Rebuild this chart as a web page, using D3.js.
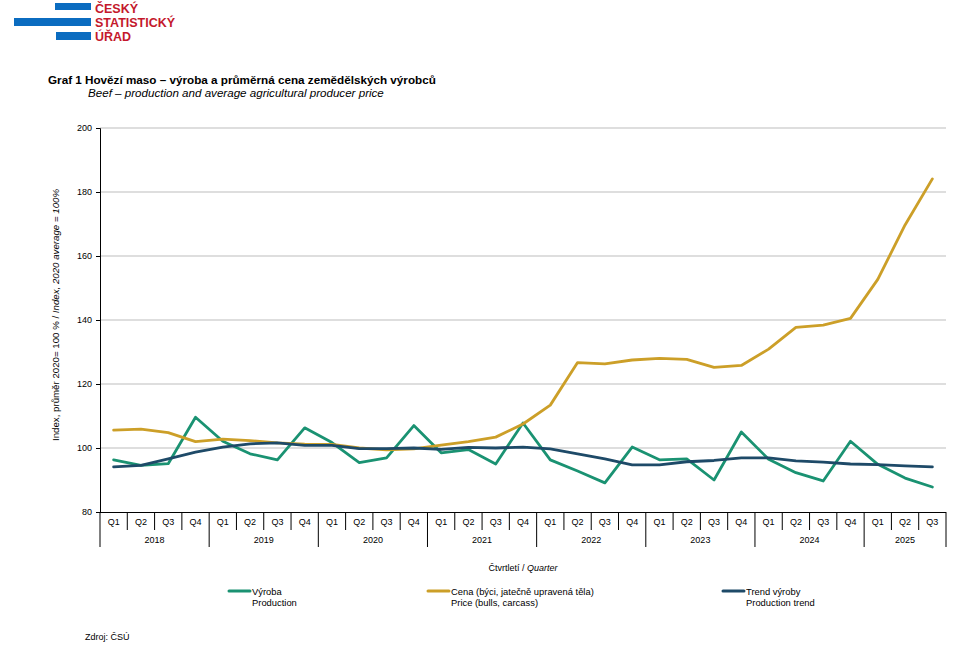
<!DOCTYPE html>
<html><head><meta charset="utf-8">
<script src="https://cdn.jsdelivr.net/npm/d3@7"></script>
<style>body{margin:0;background:#fff;} svg{display:block;font-family:"Liberation Sans",Arial,sans-serif;}</style>
</head><body>
<svg id="c" width="974" height="649"></svg>
<script>
const years = ["2018","2019","2020","2021","2022","2023","2024","2025"];
const quarters = ["Q1","Q2","Q3","Q4"];
const categories = [];
years.forEach(y => quarters.forEach(q => { if (!(y === "2025" && q === "Q4")) categories.push({year: y, q: q, key: y + q}); }));
const production = [96.3,94.6,95.1,109.6,102.1,98.2,96.3,106.3,101.7,95.4,96.9,107.0,98.5,99.5,95.0,107.8,
  96.3,92.8,89.1,100.3,96.3,96.6,90.0,105.0,96.5,92.3,89.7,102.1,94.9,90.6,87.8];
const price = [105.6,105.9,104.8,102.0,102.8,102.3,101.6,101.2,101.1,100.0,99.4,99.7,100.9,102.0,103.4,107.5,
  113.4,126.7,126.3,127.5,128.0,127.7,125.2,125.8,130.9,137.7,138.4,140.5,152.7,169.7,184.1];
const trend = [94.1,94.6,96.6,98.7,100.3,101.3,101.6,100.8,100.8,99.8,99.8,100.0,99.6,100.2,100.0,100.3,
  99.7,98.2,96.6,94.7,94.7,95.7,96.1,96.9,96.9,96.0,95.6,95.0,94.8,94.4,94.1];
const yTicks = [80,100,120,140,160,180,200];
const seriesNames = [
  {l1:"Výroba", l2:"Production", color:"#1a9272", data: production},
  {l1:"Cena (býci, jatečně upravená těla)", l2:"Price (bulls, carcass)", color:"#cc9f28", data: price},
  {l1:"Trend výroby", l2:"Production trend", color:"#1e4a68", data: trend}
];

const svg = d3.select("#c");
const L = 100, R = 946, T = 128, B = 512;
const x = d3.scaleBand().domain(categories.map(d => d.key)).range([L, R]);
const y = d3.scaleLinear().domain([80, 200]).range([B, T]);

// Logo
const logo = svg.append("g");
logo.append("rect").attr("x",55).attr("y",3).attr("width",36).attr("height",7).attr("fill","#0b6cc0");
logo.append("rect").attr("x",14).attr("y",18).attr("width",77).attr("height",8).attr("fill","#0b6cc0");
logo.append("rect").attr("x",56).attr("y",32).attr("width",35).attr("height",8).attr("fill","#0b6cc0");
["ČESKÝ","STATISTICKÝ","ÚŘAD"].forEach((t,i) => {
  logo.append("text").attr("x",95).attr("y",12.5 + i*14).attr("font-size",12.5).attr("font-weight","bold")
    .attr("fill","#c4182c").text(t);
});

// Title
svg.append("text").attr("x",48).attr("y",84).attr("font-size",11.7).attr("font-weight","bold").attr("fill","#000")
  .text("Graf 1 Hovězí maso – výroba a průměrná cena zemědělských výrobců");
svg.append("text").attr("x",88).attr("y",97).attr("font-size",11.6).attr("font-style","italic").attr("fill","#000")
  .text("Beef – production and average agricultural producer price");

// Gridlines
svg.append("g").selectAll("line").data(yTicks.filter(v => v > 80)).join("line")
  .attr("x1",L).attr("x2",R).attr("y1",d => y(d)).attr("y2",d => y(d))
  .attr("stroke","#bdbdbd").attr("stroke-width",1);

// Y axis
const yAxis = d3.axisLeft(y).tickValues(yTicks).tickSize(4).tickPadding(4).tickFormat(d3.format("d"));
const yg = svg.append("g").attr("transform",`translate(${L},0)`).call(yAxis);
yg.select(".domain").attr("stroke","#000");
yg.selectAll(".tick line").attr("stroke","#000");
yg.selectAll("text").attr("font-size",9).attr("fill","#000").attr("font-family","Liberation Sans, Arial, sans-serif");

// Y title
const yt = svg.append("text").attr("transform","translate(59,315) rotate(-90)").attr("text-anchor","middle")
  .attr("font-size",9.7).attr("fill","#000");
yt.append("tspan").text("Index, průměr 2020= 100 % / ");
yt.append("tspan").attr("font-style","italic").text("Index, 2020 average = 100%");

// X axis (quarters)
const xAxis = d3.axisBottom(x).tickFormat(k => categories.find(c => c.key === k).q).tickSize(0).tickPadding(7);
const xg = svg.append("g").attr("transform",`translate(0,${B})`).call(xAxis);
xg.select(".domain").attr("stroke","#000").attr("d",`M${L},0.5H${R}`);
xg.selectAll("text").attr("font-size",9).attr("fill","#000").attr("font-family","Liberation Sans, Arial, sans-serif");
// quarter separators
svg.append("g").selectAll("line").data(categories.slice(1).filter(c => c.q !== "Q1")).join("line")
  .attr("x1",d => x(d.key)).attr("x2",d => x(d.key)).attr("y1",B).attr("y2",B+18)
  .attr("stroke","#000").attr("stroke-width",1);
// year separators
const yearStarts = years.map(yy => x(yy + "Q1"));
const sepX = yearStarts.concat([R]);
svg.append("g").selectAll("line").data(sepX).join("line")
  .attr("x1",d => d).attr("x2",d => d).attr("y1",B).attr("y2",B+35)
  .attr("stroke","#000").attr("stroke-width",1);
// year labels
svg.append("g").selectAll("text").data(years).join("text")
  .attr("x",(yy,i) => (sepX[i] + sepX[i+1]) / 2).attr("y",B+31).attr("text-anchor","middle")
  .attr("font-size",9).attr("fill","#000").text(d => d);

// X title
const xt = svg.append("text").attr("x",523).attr("y",571).attr("text-anchor","middle").attr("font-size",9).attr("fill","#000");
xt.append("tspan").text("Čtvrtletí / ");
xt.append("tspan").attr("font-style","italic").text("Quarter");

// Lines
const line = d3.line().x((d,i) => x(categories[i].key) + x.bandwidth()/2).y(d => y(d));
seriesNames.forEach(s => {
  svg.append("path").datum(s.data).attr("d",line).attr("fill","none")
    .attr("stroke",s.color).attr("stroke-width",2.8).attr("stroke-linejoin","round").attr("stroke-linecap","round");
});

// Legend
const legX = [229, 428, 723];
seriesNames.forEach((s,i) => {
  const g = svg.append("g");
  g.append("line").attr("x1",legX[i]).attr("x2",legX[i]+21).attr("y1",591).attr("y2",591)
    .attr("stroke",s.color).attr("stroke-width",3).attr("stroke-linecap","round");
  g.append("text").attr("x",legX[i]+23).attr("y",595).attr("font-size",9.4).attr("fill","#000").text(s.l1);
  g.append("text").attr("x",legX[i]+23).attr("y",606).attr("font-size",9.4).attr("fill","#000").text(s.l2);
});

// Source
svg.append("text").attr("x",85).attr("y",640).attr("font-size",9).attr("fill","#000").text("Zdroj: ČSÚ");
</script>
</body></html>
